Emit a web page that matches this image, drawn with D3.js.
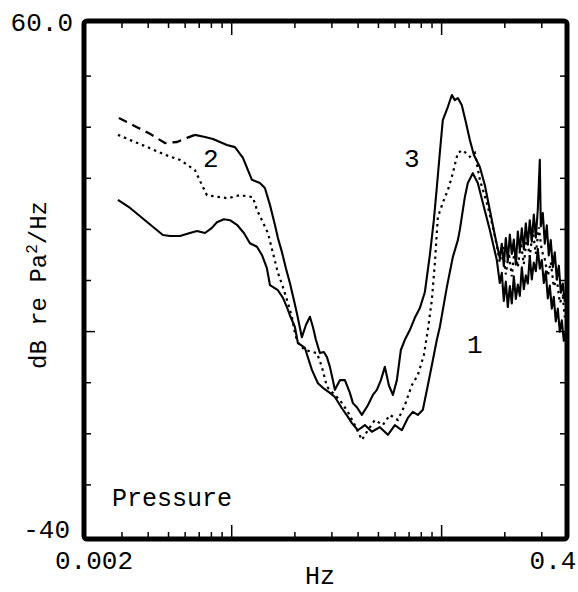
<!DOCTYPE html>
<html><head><meta charset="utf-8">
<script src="https://cdn.jsdelivr.net/npm/d3@7"></script>
<style>body{margin:0;background:#fff}svg{display:block}text{font-family:"Liberation Mono","DejaVu Sans Mono",monospace;fill:#000}</style>
</head><body>
<script>
// ---- data (frequency in Hz, level in dB re Pa^2/Hz) ----
const xDomain = [0.002, 0.4];
const yDomain = [-40, 60];
const xMinorTicks = [0.003,0.004,0.005,0.006,0.007,0.008,0.009,0.02,0.03,0.04,0.05,0.06,0.07,0.08,0.09,0.2,0.3];
const xMajorTicks = [0.01, 0.1];
const yTicks = [50,40,30,20,10,0,-10,-20,-30];
const tickLabels = {yTop:"60.0", yBottom:"-40", xLeft:"0.002", xRight:"0.4"};

const curve1F = [0.00287,0.00328,0.00386,0.00470,0.00508,0.00567,0.00632,0.00683,0.00746,0.00805,0.00850,0.00918,0.00981,0.01059,0.01143,0.01221,0.01319,0.01393,0.01471,0.01521,0.01660,0.01754,0.01832,0.01893,0.02,0.02066,0.02232,0.02410,0.02574,0.02719,0.02936,0.03101,0.03349,0.03576,0.03737,0.03991,0.04309,0.04652,0.05080,0.05545,0.05988,0.06464,0.06904,0.07291,0.07705,0.08140,0.08598,0.09082,0.09490,0.09806,0.1013,0.1059,0.1131,0.1195,0.1221,0.1290,0.1333,0.1408,0.1487,0.1571,0.1697,0.1832,0.1893,0.1935,0.1978,0.2022,0.2067,0.2113,0.2159,0.2208,0.2257,0.2307,0.2358,0.2410,0.2464,0.2518,0.2574,0.2630,0.2689,0.2749,0.2810,0.2873,0.2936,0.3001,0.3068,0.3135,0.3205,0.3276,0.3349,0.3422,0.3499,0.3577,0.3656,0.3737,0.3820,0.3905];
const curve1Db = [25.8,24.2,21.8,18.9,18.7,18.7,19.3,19.7,19.3,20.3,21.4,22.0,21.8,20.9,19.3,17.3,16.6,15.0,12.4,9.1,8.1,6.6,4.8,3.2,0.9,-2.2,-3.2,-7.5,-10.1,-11.0,-12.0,-12.8,-15.0,-16.7,-17.9,-19.3,-18.3,-19.6,-18.7,-20.2,-18.3,-19.3,-16.9,-15.7,-16.3,-15.3,-10.5,-5.6,-1.6,0.9,4.2,8.7,14.6,17.9,19.9,26.3,29.1,31.0,29.1,25.2,19.9,14.0,9.5,11.5,6.0,9.8,4.8,8.9,5.5,10.8,6.4,9.2,7.0,12.6,8.3,11.0,9.4,14.8,10.2,13.5,11.8,16.2,12.3,14.0,9.5,11.8,6.5,9.0,4.5,6.8,2.0,4.5,0.0,2.2,-1.8,0.0];

const curve2DashedF = [0.00290,0.00346,0.00408,0.00481,0.00548,0.00612,0.00668];
const curve2DashedDb = [41.8,40.2,38.7,36.9,37.1,37.9,38.5];
const curve2F = [0.00668,0.00746,0.00814,0.00949,0.01036,0.01131,0.01195,0.01248,0.01363,0.01439,0.01521,0.01606,0.01660,0.01734,0.01812,0.01893,0.01978,0.02044,0.02159,0.02257,0.02358,0.02437,0.02518,0.02630,0.02749,0.02842,0.02936,0.03034,0.03101,0.03276,0.03461,0.03656,0.03779,0.03947,0.04169,0.04454,0.04704,0.04916,0.05136,0.05365,0.05606,0.05858,0.06121,0.06394,0.06680,0.07056,0.07453,0.07876,0.08318,0.08790,0.09182,0.09490,0.09806,0.1013,0.1071,0.1119,0.1156,0.1195,0.1248,0.1304,0.1363,0.1424,0.1521,0.1606,0.1697,0.1792,0.1893,0.1935,0.1978,0.2022,0.2067,0.2113,0.2159,0.2208,0.2257,0.2307,0.2358,0.2410,0.2464,0.2518,0.2574,0.2630,0.2689,0.2749,0.2810,0.2873,0.2936,0.2968,0.3034,0.3101,0.3170,0.3240,0.3311,0.3385,0.3460,0.3538,0.3617,0.3697,0.3779,0.3862];
const curve2Db = [38.5,38.1,37.7,36.5,36.1,34.0,31.6,29.7,29.1,28.1,24.8,20.9,18.3,15.6,12.4,9.5,6.2,3.6,-1.1,1.3,2.9,0.9,-1.6,-4.2,-4.0,-5.0,-6.9,-9.5,-11.4,-9.5,-9.5,-12.0,-14.0,-14.8,-16.3,-14.4,-12.4,-11.4,-9.5,-6.9,-10.5,-12.4,-9.5,-3.6,-1.6,0.3,2.7,4.6,7.7,15.0,21.8,28.3,35.0,41.4,44.0,46.3,45.3,45.7,44.3,41.0,37.5,34.6,32.2,28.7,23.8,18.9,14.4,17.2,12.8,18.3,13.9,19.0,15.2,18.0,13.1,19.6,15.8,20.2,16.1,21.2,17.0,21.8,17.6,22.9,18.4,24.0,33.6,20.6,23.2,17.2,20.8,14.9,17.9,12.6,15.5,10.2,12.9,7.6,9.4,5.8];

const curve3F = [0.00287,0.00346,0.00408,0.00481,0.00567,0.00668,0.00729,0.00762,0.00879,0.00959,0.01094,0.01262,0.01319,0.01393,0.01487,0.01571,0.01660,0.01754,0.01852,0.01935,0.02,0.02066,0.02232,0.02546,0.02689,0.02842,0.03034,0.03276,0.03576,0.03862,0.04169,0.04454,0.04808,0.05248,0.05668,0.06188,0.06680,0.07212,0.07705,0.08230,0.08598,0.08984,0.09284,0.09594,0.1013,0.1071,0.1119,0.1195,0.1262,0.1363,0.1439,0.1521,0.1642,0.1754,0.1832,0.1893,0.1957,0.2022,0.2090,0.2159,0.2232,0.2307,0.2384,0.2464,0.2546,0.2630,0.2719,0.2810,0.2904,0.3001,0.3101,0.3205,0.3311,0.3422,0.3538,0.3656,0.3779,0.3862];
const curve3Db = [38.5,37.1,35.9,34.6,33.6,31.6,28.3,26.7,26.3,26.1,26.7,26.3,23.8,21.8,19.3,15.4,11.5,8.7,5.6,2.9,-0.3,-2.2,-3.6,-4.2,-6.9,-10.8,-12.0,-13.4,-15.7,-18.3,-21.2,-19.3,-17.3,-18.3,-16.3,-17.3,-14.4,-10.5,-8.5,-4.6,0.3,6.2,13.4,22.4,25.2,27.7,30.3,35.0,35.5,34.2,35.0,29.7,25.2,20.5,16.9,13.5,16.6,11.2,15.4,10.8,16.5,12.6,17.4,13.2,18.5,14.6,19.8,15.2,20.4,15.8,14.2,10.9,13.6,8.8,10.4,5.6,6.9,2.8];

const curveLabels = [{t:"2", f:0.00796, db:32.2}, {t:"3", f:0.0721, db:32.2}, {t:"1", f:0.1439, db:-4.2}];
const panelLabel = "Pressure";

// ---- drawing ----
const W = 578, H = 592;
const svg = d3.select("body").append("svg").attr("width", W).attr("height", H);
const x = d3.scaleLog().domain(xDomain).range([85, 568]);
const y = d3.scaleLinear().domain(yDomain).range([536, 25]);
const L = 84, R = 567, T = 21, B = 539;

const g = svg.append("g");
const zip = (F, D) => F.map((f, i) => [f, D[i]]);
const line = d3.line().x(d => x(d[0])).y(d => y(d[1]));

g.append("path").datum(zip(curve1F, curve1Db)).attr("d", line)
  .attr("fill","none").attr("stroke","#000").attr("stroke-width",2.1).attr("stroke-linejoin","round");
g.append("path").datum(zip(curve2DashedF, curve2DashedDb)).attr("d", line)
  .attr("fill","none").attr("stroke","#000").attr("stroke-width",2.3).attr("stroke-dasharray","9,6");
g.append("path").datum(zip(curve2F, curve2Db)).attr("d", line)
  .attr("fill","none").attr("stroke","#000").attr("stroke-width",2.1).attr("stroke-linejoin","round");
g.append("path").datum(zip(curve3F, curve3Db)).attr("d", line)
  .attr("fill","none").attr("stroke","#000").attr("stroke-width",2.2).attr("stroke-dasharray","2.5,4");

// ticks (inside)
const tk = svg.append("g").attr("stroke","#000").attr("stroke-width",1.5);
xMinorTicks.forEach(v => {
  tk.append("line").attr("x1",x(v)).attr("x2",x(v)).attr("y1",T+2).attr("y2",T+7);
  tk.append("line").attr("x1",x(v)).attr("x2",x(v)).attr("y1",B-2).attr("y2",B-7);
});
xMajorTicks.forEach(v => {
  tk.append("line").attr("x1",x(v)).attr("x2",x(v)).attr("y1",T+2).attr("y2",T+14);
  tk.append("line").attr("x1",x(v)).attr("x2",x(v)).attr("y1",B-2).attr("y2",B-14);
});
yTicks.forEach(v => {
  const len = v === 0 ? 9 : 5;
  tk.append("line").attr("x1",L+2).attr("x2",L+2+len).attr("y1",y(v)).attr("y2",y(v));
  tk.append("line").attr("x1",R-2).attr("x2",R-2-len).attr("y1",y(v)).attr("y2",y(v));
});

// frame
svg.append("rect").attr("x",L).attr("y",T).attr("width",R-L).attr("height",B-T)
  .attr("rx",3).attr("fill","none").attr("stroke","#000").attr("stroke-width",5);

// tick labels
svg.append("text").attr("x",73).attr("y",31).attr("text-anchor","end").attr("font-size",26).text(tickLabels.yTop);
svg.append("text").attr("x",70).attr("y",538).attr("text-anchor","end").attr("font-size",26).text(tickLabels.yBottom);
svg.append("text").attr("x",94).attr("y",569).attr("text-anchor","middle").attr("font-size",26).text(tickLabels.xLeft);
svg.append("text").attr("x",553).attr("y",569).attr("text-anchor","middle").attr("font-size",26).text(tickLabels.xRight);

// axis titles
svg.append("text").attr("x",320).attr("y",584).attr("text-anchor","middle").attr("font-size",25).text("Hz");
const yl = svg.append("text").attr("transform","translate(46,285) rotate(-90)").attr("text-anchor","middle").attr("font-size",24);
yl.append("tspan").text("dB re Pa");
yl.append("tspan").attr("dy",-9).attr("font-size",16).text("2");
yl.append("tspan").attr("dy",9).text("/Hz");

// curve labels
curveLabels.forEach(c => {
  svg.append("text").attr("x",x(c.f)).attr("y",y(c.db)).attr("text-anchor","middle").attr("font-size",26).text(c.t);
});
svg.append("text").attr("x",112).attr("y",506).attr("font-size",25).text(panelLabel);
</script>
</body></html>
